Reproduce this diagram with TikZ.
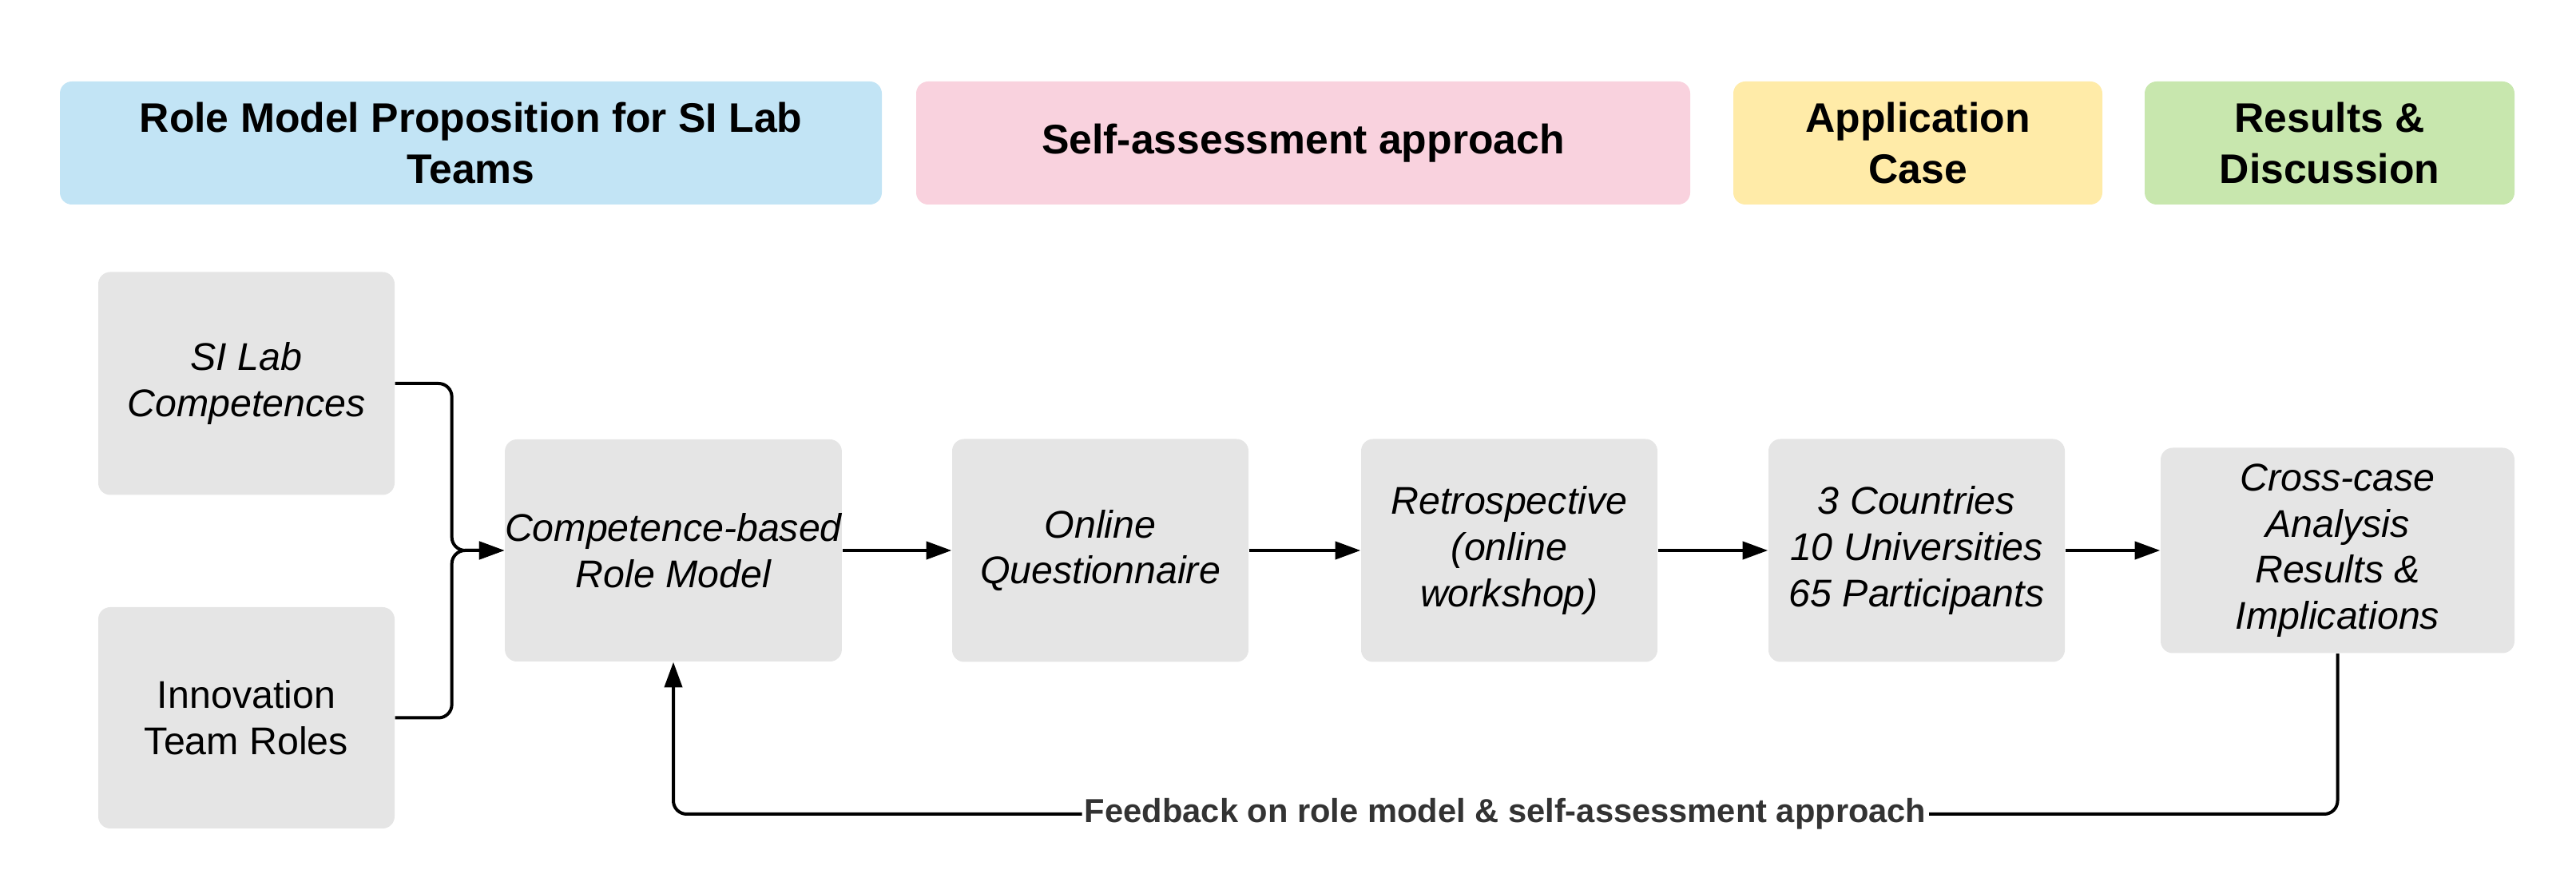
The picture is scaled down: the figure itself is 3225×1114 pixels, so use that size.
\documentclass[tikz,border=0pt]{standalone}
\usepackage{fontspec}
\setmainfont{Liberation Sans}
\usetikzlibrary{arrows.meta}
\definecolor{hblue}{RGB}{194,228,245}
\definecolor{hpink}{RGB}{249,210,222}
\definecolor{hyellow}{RGB}{255,235,168}
\definecolor{hgreen}{RGB}{200,231,174}
\definecolor{boxgray}{RGB}{229,229,229}
\definecolor{fbtext}{RGB}{51,51,51}
\begin{document}
\begin{tikzpicture}[x=0.3pt,y=-0.3pt,
  hdr/.style={rectangle, rounded corners=4.5pt, minimum height=46.2pt, inner sep=0pt,
    align=center, font=\fontsize{15.5}{19}\selectfont\bfseries},
  procbox/.style={rectangle, rounded corners=4.5pt, fill=boxgray, minimum width=111.3pt,
    minimum height=83.7pt, inner sep=0pt, align=center,
    font=\fontsize{14.5}{17.3}\selectfont\itshape},
  arr/.style={line width=1.2pt, -{Triangle[length=9.5pt,width=6.6pt]}, rounded corners=5pt},
  fblabel/.style={fill=white, inner sep=1pt, text=fbtext, font=\fontsize{12.5}{15}\selectfont\bfseries}
]
\useasboundingbox (0,0) rectangle (3225,1114);

% headers
\node[hdr, fill=hblue, minimum width=308.7pt] (h1) at (589.5,179) {Role Model Proposition for SI Lab\\Teams};
\node[hdr, fill=hpink, minimum width=290.7pt] (h2) at (1631.5,179) {Self-assessment approach};
\node[hdr, fill=hyellow, minimum width=138.6pt] (h3) at (2401,179) {Application\\Case};
\node[hdr, fill=hgreen, minimum width=138.9pt] (h4) at (2916.5,179) {Results \&\\Discussion};

% process boxes
\node[procbox] (silab) at (308.5,480) {SI Lab\\Competences};
\node[procbox, font=\fontsize{14.5}{17.3}\selectfont, minimum height=83.1pt] (innov) at (308.5,898.5) {Innovation\\Team Roles};
\node[procbox, minimum width=125.4pt, minimum height=83.4pt] (comp) at (843,689) {Competence-based\\Role Model};
\node[procbox] (online) at (1377.5,689) {Online\\Questionnaire};
\node[procbox] (retro) at (1889.5,689) {Retrospective\\(online\\workshop)};
\node[procbox] (countries) at (2399.5,689) {3 Countries\\10 Universities\\65 Participants};
\node[procbox, minimum width=132.9pt, minimum height=77.1pt] (cross) at (2926.5,689) {Cross-case\\Analysis\\Results \&\\Implications};

% connectors
\draw[arr] (silab.east) -- ++(71,0) |- (comp.west);
\draw[arr] (innov.east) -- ++(71,0) |- (comp.west);
\draw[arr] (comp.east) -- (online.west);
\draw[arr] (online.east) -- (retro.west);
\draw[arr] (retro.east) -- (countries.west);
\draw[arr] (countries.east) -- (cross.west);

\coordinate (fb) at (0,1019);
\draw[arr] (cross.south) -- (cross.south |- fb) -- node[fblabel] {Feedback on role model \& self-assessment approach} (comp.south |- fb) -- (comp.south);
\end{tikzpicture}
\end{document}
